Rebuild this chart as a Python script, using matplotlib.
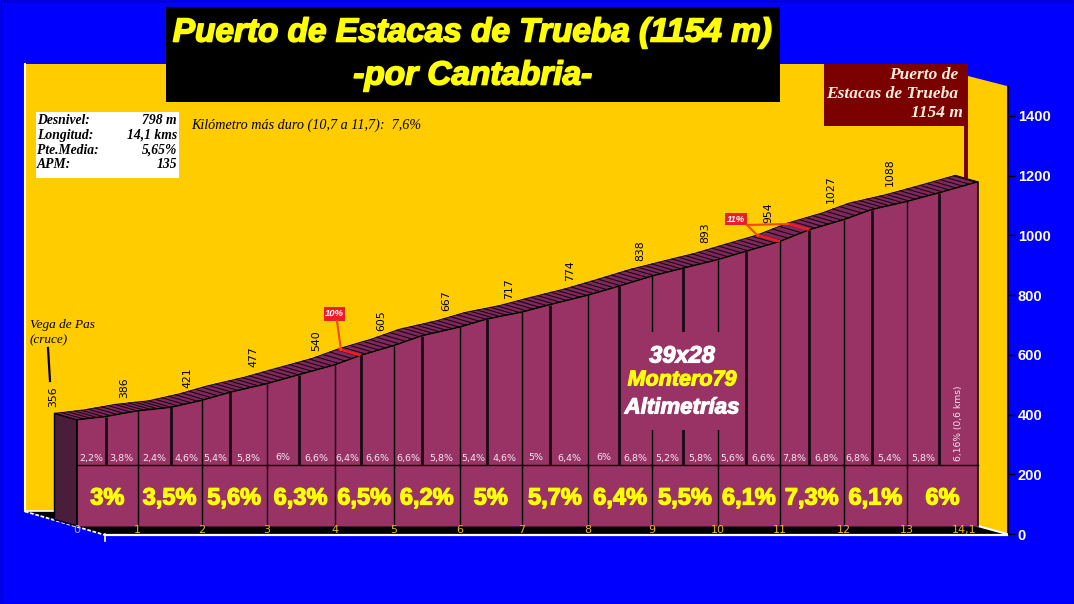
import matplotlib
matplotlib.use('Agg')
import matplotlib.pyplot as plt
import matplotlib.patheffects as pe
import numpy as np
from matplotlib.patches import Polygon, Rectangle

# Profile, one point every half km (last stretch 0,6 km)
dist_pos = [0, 0.45, 0.95, 1.47, 1.95, 2.39, 2.97, 3.47, 4.03, 4.44, 4.96, 5.40, 5.99, 6.42, 6.96,
            7.40, 8.00, 8.48, 9.00, 9.48, 10.03, 10.47, 11.00, 11.46, 12.00, 12.44, 12.99, 13.49, 14.10]
elev = [356, 367, 386, 398, 421, 448, 477, 507, 540, 572, 605, 638, 667, 694, 717,
        742, 774, 804, 838, 864, 893, 921, 954, 993, 1027, 1061, 1088, 1117, 1154]
small_pct = ['2,2%', '3,8%', '2,4%', '4,6%', '5,4%', '5,8%', '6%', '6,6%', '6,4%', '6,6%', '6,6%', '5,8%', '5,4%', '4,6%',
             '5%', '6,4%', '6%', '6,8%', '5,2%', '5,8%', '5,6%', '6,6%', '7,8%', '6,8%', '6,8%', '5,4%', '5,8%']
km_pct = ['3%', '3,5%', '5,6%', '6,3%', '6,5%', '6,2%', '5%', '5,7%', '6,4%', '5,5%', '6,1%', '7,3%', '6,1%', '6%']
km_labels = ['0', '1', '2', '3', '4', '5', '6', '7', '8', '9', '10', '11', '12', '13', '14,1']
steep_idx = [9, 22, 23]  # red marks on the road
info_rows = [('Desnivel:', '798 m'), ('Longitud:', '14,1 kms'), ('Pte.Media:', '5,65%'), ('APM:', '135')]
yticks = [0, 200, 400, 600, 800, 1000, 1200, 1400]

# offset of each elevation label from its km point, pixels
label_dx = [-24, -13, -14, -13, -18, -13, -14, -13, -18, -12, -13, -12, -13, -17]
label_dy = [23, 23, 23, 27, 24, 24.5, 26, 23, 24, 25, 27, 29, 30, 29]

dist_pos = np.array(dist_pos)
elev = np.array(elev)

# pixel scale of the front plane
W, H = 1074, 604
PX_KM = 63.9
PX_M = 0.2983
X0, Y0 = 77, 526
depth_km = -22.5/PX_KM  # depth of the road band
depth_m = 6.5/PX_M

BLUE = '#0000ff'
YELLOW = '#ffcc00'
BAR = '#993366'
DARK = '#4a1d3a'

fig = plt.figure(figsize=(W/100, H/100), dpi=100, facecolor=BLUE)

# back layer in pixels
bg = fig.add_axes([0, 0, 1, 1], zorder=0)
bg.set_xlim(0, W)
bg.set_ylim(H, 0)
bg.axis('off')
bg.add_patch(Polygon([(25, 64), (968, 64), (968, 76), (1007, 86), (1007, 534), (105, 534), (25, 511)], fc=YELLOW, ec='none'))
bg.add_patch(Polygon([(25, 511), (54, 511), (54, 520), (77, 526), (978, 526), (1007, 534), (105, 535)], fc='black', ec='none'))
bg.plot([25, 25], [64, 511], color='white', lw=1.5)
bg.plot([25, 54], [511, 511], color='white', lw=1.2)
bg.plot([25, 105], [511.5, 535], color='white', lw=1.3, ls=(0, (2, 1)))
bg.plot([978, 1007], [526, 534], color='white', lw=1.5)
bg.plot([105, 1007], [534.5, 534.5], color='white', lw=1.6)
bg.plot([105, 105], [534, 541], color='white', lw=1.2)

# profile layer, km / m
ax = fig.add_axes([0, 0, 1, 1], zorder=1)
ax.patch.set_alpha(0)
ax.set_xlim(-X0/PX_KM, (W-X0)/PX_KM)
ax.set_ylim((Y0-H)/PX_M, Y0/PX_M)
ax.axis('off')

ax.fill_between(dist_pos, elev, 0, color=BAR, lw=0, zorder=2)
ax.plot(np.r_[dist_pos[0], dist_pos, dist_pos[-1]], np.r_[0, elev, 0], color='black', lw=1, zorder=4)

# left side and road band
ax.add_patch(Polygon([(0, 0), (0, elev[0]), (depth_km, elev[0]+depth_m), (depth_km, depth_m)],
                     fc=DARK, ec='black', lw=1, zorder=3))
band = np.r_[np.c_[dist_pos, elev], np.c_[dist_pos+depth_km, elev+depth_m][::-1]]
ax.add_patch(Polygon(band, fc='#80285c', ec='black', lw=0.6, zorder=3))
for d in np.arange(0, 14.1, 0.105):
    e = np.interp(d, dist_pos, elev)
    ax.plot([d, d+depth_km], [e, e+depth_m], color='#140510', lw=0.75, zorder=3)
for i in steep_idx:
    ax.plot([dist_pos[i], dist_pos[i]+depth_km], [elev[i], elev[i]+depth_m], color='#ee1c25', lw=2, zorder=4,
            solid_capstyle='butt')

# separators
sep = (Y0-465)/PX_M
ax.plot([0, dist_pos[-1]], [sep, sep], color='black', lw=1, zorder=4)
ax.vlines(dist_pos[2:-1:2], 0, elev[2:-1:2], color='black', lw=1, zorder=4)
ax.vlines(dist_pos[1::2], sep, elev[1::2], color='#1a0a14', lw=2, zorder=4)

# texts on the bars
for i, s in enumerate(small_pct):
    ax.text((dist_pos[i]+dist_pos[i+1])/2, (Y0-458)/PX_M, s, color='#f3e6f0', fontsize=6.8, ha='center', va='center', zorder=5)
ax.text((dist_pos[-2]+dist_pos[-1])/2, (Y0-461)/PX_M, '6,16% (0,6 kms)', color='#f3e6f0', fontsize=6.6, rotation=90,
        ha='center', va='bottom', zorder=5)
for i, s in enumerate(km_pct):
    k = 2*i
    x = (dist_pos[k]+dist_pos[min(k+2, len(dist_pos)-1)])/2
    ax.text(x, (Y0-498)/PX_M, s, color='#ffff00', fontsize=17, family='Liberation Sans', weight='bold',
            ha='center', va='center', zorder=5,
            path_effects=[pe.withStroke(linewidth=0.9, foreground='#ffff00')])

# elevation labels on each km
for k, i in enumerate(range(0, len(elev)-1, 2)):
    ax.annotate(str(elev[i]), (dist_pos[i], elev[i]), xytext=(label_dx[k]*0.72, label_dy[k]*0.72), textcoords='offset points',
                rotation=90, ha='center', va='center', fontsize=7.8, color='black', zorder=6)

# km labels
for i, s in enumerate(km_labels):
    k = min(2*i, len(dist_pos)-1)
    col = '#b8a8e8' if i == 0 else '#e8b828'
    if i == len(km_labels)-1:
        ax.text(dist_pos[k]-0.02, (Y0-530)/PX_M, s, color=col, fontsize=8, ha='right', va='center', zorder=6)
    else:
        ax.text(dist_pos[k], (Y0-530)/PX_M, s, color=col, fontsize=8, ha='center', va='center', zorder=6)

# right axis, lifted 8 px from the front plane
ay = fig.add_axes([1007/W, (H-534)/H, 0.001, (534-86)/H], zorder=1.5)
ay.patch.set_alpha(0)
ay.set_ylim(0, 1500)
ay.set_xticks([])
for sp in ['left', 'top', 'bottom']:
    ay.spines[sp].set_visible(False)
ay.spines['right'].set_color('black')
ay.yaxis.tick_right()
ay.set_yticks(yticks)
ay.tick_params(axis='y', length=5, width=1, color='black', pad=2, labelcolor='white', labelsize=10.5)
for t in ay.get_yticklabels():
    t.set_family('Liberation Sans')
    t.set_weight('bold')

# front layer in pixels
top = fig.add_axes([0, 0, 1, 1], zorder=2)
top.patch.set_alpha(0)
top.set_xlim(0, W)
top.set_ylim(H, 0)
top.axis('off')

# title
top.add_patch(Rectangle((166, 7), 614, 95, fc='black', ec='none'))
stroke_y = [pe.withStroke(linewidth=1.2, foreground='#ffff00')]
top.text(473, 33, 'Puerto de Estacas de Trueba (1154 m)', color='#ffff00', fontsize=24, family='Liberation Sans', weight='bold',
         style='italic', ha='center', va='center', path_effects=stroke_y)
top.text(473, 76, '-por Cantabria-', color='#ffff00', fontsize=24, family='Liberation Sans', weight='bold', style='italic',
         ha='center', va='center', path_effects=stroke_y)

# summit box
top.add_patch(Rectangle((824, 64), 144, 62, fc='#7b0000', ec='none'))
top.add_patch(Rectangle((963.5, 126), 4.5, 52, fc='#7b0000', ec='none'))
for s, x, y in [('Puerto de', 958, 75), ('Estacas de Trueba', 958, 94), ('1154 m', 963, 113)]:
    top.text(x, y, s, color='#ffeedd', fontsize=12.5, family='Liberation Serif', weight='bold', style='italic',
             ha='right', va='center')

# info box
top.add_patch(Rectangle((36, 112), 143, 66, fc='white', ec='none'))
for (a, b), y in zip(info_rows, [120.5, 135.5, 150.5, 165]):
    top.text(37, y, a, fontsize=9.8, family='Liberation Serif', weight='bold', style='italic', ha='left', va='center', color='black')
    top.text(177, y, b, fontsize=9.8, family='Liberation Serif', weight='bold', style='italic', ha='right', va='center', color='black')
top.text(191, 125, 'Kilómetro más duro (10,7 a 11,7):  7,6%', fontsize=10.2, family='Liberation Serif', style='italic',
         ha='left', va='center', color='black')

# start note
top.text(30, 325, 'Vega de Pas', fontsize=9.5, family='Liberation Serif', style='italic', ha='left', va='center', color='black')
top.text(30, 340, '(cruce)', fontsize=9.5, family='Liberation Serif', style='italic', ha='left', va='center', color='black')
top.plot([48, 50], [348, 381], color='black', lw=1.6)

# steep flags
LEAD = '#f04a10'
top.plot([337, 341], [321, 350], color=LEAD, lw=1.5)
top.plot([747, 758], [225, 236], color=LEAD, lw=1.5)
top.plot([747, 788], [225, 224], color=LEAD, lw=1.5)
for x, y, w, h, s in [(324, 307, 21, 14, '10%'), (725, 213, 22, 12, '11%')]:
    top.add_patch(Rectangle((x, y), w, h, fc='#ee1c25', ec='none'))
    top.text(x+w/2, y+h/2, s, color='white', fontsize=6.8, family='Liberation Sans', weight='bold', style='italic', ha='center', va='center')

# signature
top.add_patch(Rectangle((621, 332), 124, 98, fc=BAR, ec='none'))
for s, y, c, fs in [('39x28', 356, 'white', 17), ('Montero79', 380, '#ffff00', 15.5), ('Altimetrías', 408, 'white', 16)]:
    top.text(682, y, s, color=c, fontsize=fs, family='Liberation Sans', weight='bold', style='italic', ha='center', va='center',
             path_effects=[pe.withStroke(linewidth=0.8, foreground=c)])

top.add_patch(Rectangle((0.5, 0.5), W-1, H-1, fc='none', ec='#000080', lw=1))

fig.savefig('out.png', dpi=100, facecolor=BLUE)
